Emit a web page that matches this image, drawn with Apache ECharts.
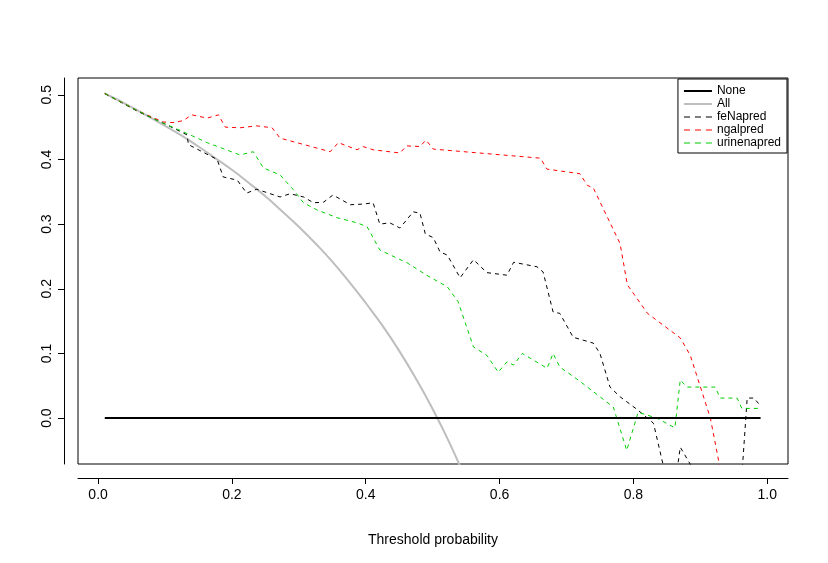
<!DOCTYPE html>
<html><head><meta charset="utf-8">
<script src="https://cdn.jsdelivr.net/npm/echarts@6/dist/echarts.min.js"></script>
<style>html,body{margin:0;padding:0;background:#fff}#c{width:828px;height:563px}</style>
</head><body><div id="c"></div>
<script>
const xTicks=[0,0.2,0.4,0.6,0.8,1.0];
const yTicks=[0,0.1,0.2,0.3,0.4,0.5];
const noneX=[0.01,0.99], noneY=[0,0];
const allX=[0.01,0.05,0.1,0.125,0.15,0.175,0.2,0.225,0.25,0.275,0.3,0.325,0.35,0.375,0.4,0.425,0.45,0.475,0.5,0.525,0.55];
const allY=[0.502,0.481,0.452,0.437,0.420,0.402,0.384,0.364,0.343,0.320,0.296,0.270,0.242,0.211,0.178,0.143,0.104,0.061,0.014,-0.038,-0.096];
const feX=[0.01,0.06,0.1,0.133,0.135,0.178,0.187,0.208,0.222,0.237,0.272,0.287,0.307,0.322,0.337,0.351,0.377,0.396,0.411,0.421,0.436,0.451,0.471,0.481,0.489,0.501,0.511,0.522,0.541,0.561,0.581,0.611,0.621,0.656,0.665,0.68,0.69,0.71,0.74,0.75,0.765,0.78,0.806,0.83,0.845,0.86,0.87,0.887,0.9,0.96,0.97,0.98,0.99];
const feY=[0.502,0.474,0.455,0.438,0.423,0.40,0.373,0.368,0.348,0.354,0.342,0.347,0.342,0.333,0.334,0.345,0.330,0.331,0.333,0.300,0.302,0.294,0.319,0.317,0.285,0.279,0.257,0.252,0.217,0.245,0.225,0.221,0.241,0.234,0.226,0.164,0.162,0.125,0.116,0.100,0.048,0.033,0.013,-0.008,-0.075,-0.12,-0.045,-0.075,-0.12,-0.12,0.031,0.031,0.019];
const ngX=[0.01,0.06,0.097,0.112,0.127,0.14,0.163,0.18,0.19,0.212,0.237,0.26,0.272,0.347,0.359,0.387,0.396,0.411,0.451,0.461,0.481,0.49,0.501,0.661,0.671,0.72,0.731,0.74,0.78,0.791,0.821,0.87,0.885,0.915,0.93];
const ngY=[0.502,0.475,0.458,0.457,0.460,0.469,0.464,0.469,0.450,0.449,0.452,0.449,0.433,0.412,0.426,0.415,0.420,0.415,0.410,0.421,0.420,0.430,0.416,0.402,0.385,0.378,0.360,0.356,0.270,0.206,0.162,0.124,0.097,0.0,-0.08];
const urX=[0.01,0.06,0.093,0.127,0.163,0.212,0.232,0.247,0.272,0.292,0.307,0.327,0.357,0.387,0.402,0.421,0.462,0.491,0.522,0.538,0.561,0.581,0.598,0.611,0.621,0.634,0.671,0.68,0.69,0.72,0.77,0.79,0.807,0.835,0.862,0.87,0.88,0.922,0.93,0.955,0.962,0.99];
const urY=[0.502,0.475,0.458,0.443,0.426,0.407,0.412,0.387,0.376,0.353,0.333,0.322,0.310,0.302,0.296,0.260,0.240,0.221,0.203,0.180,0.110,0.097,0.071,0.087,0.082,0.100,0.077,0.100,0.079,0.057,0.017,-0.050,0.009,0.0,-0.015,0.059,0.048,0.048,0.031,0.031,0.015,0.015];
const names=['None','All','feNapred','ngalpred','urinenapred'];
const colors=['#000000','#bebebe','#000000','#ff0000','#00cd00'];
const zip=(a,b)=>a.map((v,i)=>[v,b[i]]);
const dash=[4,4];
const solidIcon='path://M0,4h28v2h-28z';
const dashIcon='path://M0,4.5h5v1h-5zM9,4.5h5v1h-5zM18,4.5h5v1h-5z';
const series=[
 {name:names[0],type:'line',data:zip(noneX,noneY),symbol:'none',color:colors[0],lineStyle:{color:colors[0],width:2},z:5},
 {name:names[1],type:'line',data:zip(allX,allY),symbol:'none',smooth:true,color:colors[1],lineStyle:{color:colors[1],width:2}},
 {name:names[2],type:'line',data:zip(feX,feY),symbol:'none',color:colors[2],lineStyle:{color:colors[2],width:1,type:dash}},
 {name:names[3],type:'line',data:zip(ngX,ngY),symbol:'none',color:colors[3],lineStyle:{color:colors[3],width:1,type:dash}},
 {name:names[4],type:'line',data:zip(urX,urY),symbol:'none',color:colors[4],lineStyle:{color:colors[4],width:1,type:dash}}
];
const ax={color:'#000',fontSize:14,fontFamily:'Liberation Sans'};
const chart=echarts.init(document.getElementById('c'));
chart.setOption({
 animation:false,
 textStyle:{fontFamily:'Liberation Sans'},
 grid:{left:78,right:40,top:78,bottom:99,containLabel:false,outerBoundsMode:'none',show:true,borderColor:'#000',borderWidth:1,backgroundColor:'transparent'},
 legend:{right:41,top:79,orient:'vertical',itemGap:1,itemWidth:28,itemHeight:10,padding:[6,6,4,6],
   borderColor:'#000',borderWidth:1,borderRadius:0,backgroundColor:'#fff',textStyle:{fontSize:12,color:'#000'},
   data:names.map((n,i)=>({name:n,icon:i<2?solidIcon:dashIcon,itemStyle:{color:colors[i]}}))},
 xAxis:{type:'value',min:-0.03,max:1.031,name:'Threshold probability',nameLocation:'middle',nameGap:55,nameTextStyle:ax,
   offset:14,axisLine:{show:true,onZero:false,lineStyle:{color:'#000'}},splitLine:{show:false},
   axisTick:{show:true,length:6,lineStyle:{color:'#000'},customValues:xTicks},
   axisLabel:Object.assign({customValues:xTicks,formatter:v=>v.toFixed(1),margin:10},ax)},
 yAxis:{type:'value',min:-0.071,max:0.526,name:'Net benefit',nameLocation:'middle',nameGap:62,nameTextStyle:ax,
   offset:14,axisLine:{show:true,onZero:false,lineStyle:{color:'#000'}},splitLine:{show:false},
   axisTick:{show:true,length:6,lineStyle:{color:'#000'},customValues:yTicks},
   axisLabel:Object.assign({customValues:yTicks,formatter:v=>v.toFixed(1),rotate:90,margin:10},ax)},
 series:series
});
</script></body></html>
